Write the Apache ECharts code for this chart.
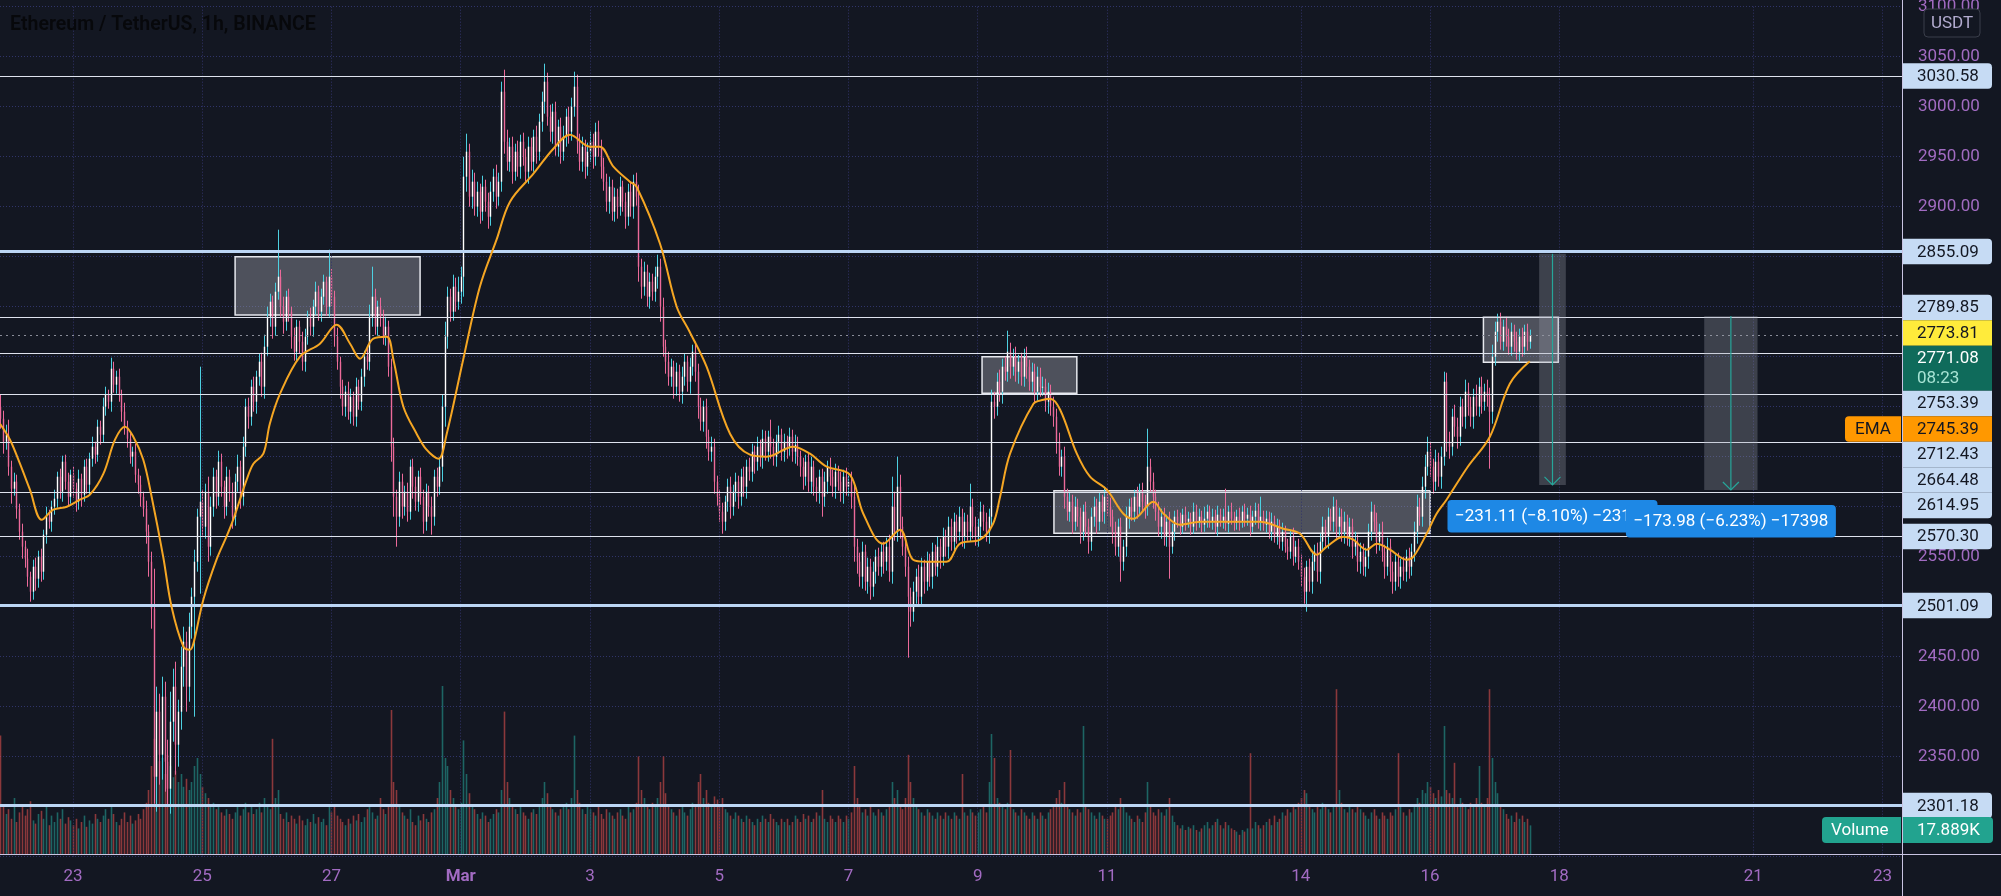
<!DOCTYPE html>
<html><head><meta charset="utf-8">
<script src="https://cdn.jsdelivr.net/npm/echarts@6/dist/echarts.min.js"></script>
<style>html,body{margin:0;padding:0;background:#131722;overflow:hidden}#c{width:2001px;height:896px}</style>
</head><body><div id="c"></div>
<script>
// ---------- DATA (hourly candles, hour 0 = 23 Feb 00:00) ----------
const startHour = -27;
const firstOpen = 2700;
const closes = [
2688,2665,2672,2640,2618,2625,2598,2575,2560,2548,2530,2515,2540,2528,2550,2535,2572,2590,2585,2600,2608,2630,2615,2645,2625,2610,2632,
2618,2605,2628,2612,2640,2622,2648,2660,2652,2680,2672,2700,2712,2705,2738,2722,2730,2712,2695,2680,2668,2650,2655,2632,
2622,2610,2598,2575,2545,2498,2330,2395,2352,2410,2345,2318,2385,2420,2362,2395,2440,2465,2420,2480,2510,2545,2590,2605,
2580,2615,2560,2600,2630,2610,2645,2620,2600,2630,2615,2590,2625,2640,2610,2660,2700,2690,2720,2705,2730,2745,2720,2760,
2790,2805,2780,2815,2830,2800,2785,2810,2795,2770,2755,2780,2765,2745,2770,2790,2780,2800,2815,2795,2810,2825,2800,2830,
2810,2770,2745,2720,2700,2715,2695,2710,2690,2720,2705,2730,2750,2745,2790,2810,2780,2800,2790,2770,2780,2740,2660,2610,
2590,2625,2600,2615,2595,2640,2620,2605,2630,2610,2585,2615,2600,2590,2630,2620,2640,2700,2770,2810,2795,2820,2805,2815,
2830,2930,2955,2910,2925,2900,2915,2895,2920,2905,2890,2915,2930,2910,2925,3015,2965,2945,2960,2935,2955,2940,2965,2950,
2935,2960,2945,2970,2955,2985,3005,3025,2990,2975,2995,2960,2980,2955,2970,2990,2975,3000,3020,2965,2945,2960,2940,2955,
2965,2950,2975,2960,2940,2925,2905,2920,2895,2910,2900,2920,2905,2890,2915,2900,2925,2910,2840,2820,2835,2810,2825,2815,
2830,2840,2800,2760,2745,2730,2740,2720,2735,2715,2730,2745,2725,2740,2755,2735,2700,2685,2700,2670,2655,2660,2625,2610,
2595,2585,2605,2620,2600,2615,2625,2610,2630,2620,2640,2635,2655,2645,2660,2650,2668,2655,2670,2660,2650,2665,2672,2655,
2665,2660,2670,2655,2662,2650,2640,2630,2645,2625,2640,2620,2615,2630,2610,2625,2640,2630,2620,2635,2625,2615,2630,2620,
2625,2610,2560,2545,2530,2555,2525,2540,2520,2535,2550,2540,2555,2545,2560,2535,2600,2575,2620,2580,2560,2540,2510,2495,
2515,2530,2510,2540,2525,2545,2530,2555,2540,2560,2550,2570,2560,2580,2565,2585,2575,2590,2570,2585,2575,2600,2580,2570,
2580,2595,2585,2575,2590,2705,2700,2725,2715,2740,2735,2755,2740,2750,2735,2745,2730,2750,2740,2725,2735,2715,2730,2720,
2720,2705,2715,2700,2690,2665,2640,2650,2610,2595,2605,2585,2600,2590,2575,2595,2580,2565,2590,2600,2585,2605,2595,2610,
2600,2590,2575,2560,2580,2545,2560,2590,2600,2595,2610,2600,2615,2605,2600,2640,2625,2610,2595,2580,2590,2570,2585,2560,
2575,2590,2585,2580,2592,2585,2588,2580,2595,2585,2590,2582,2588,2595,2585,2590,2580,2592,2586,2590,2583,2595,2588,2584,
2590,2585,2595,2588,2592,2580,2590,2596,2585,2590,2582,2588,2575,2585,2570,2580,2565,2575,2560,2555,2570,2550,2560,2545,
2530,2515,2540,2525,2545,2555,2535,2565,2580,2570,2590,2585,2600,2580,2590,2575,2585,2570,2580,2560,2565,2545,2555,2540,
2550,2575,2595,2585,2565,2575,2555,2540,2560,2535,2525,2545,2530,2540,2535,2550,2540,2555,2575,2600,2590,2620,2640,2655,
2640,2625,2645,2630,2650,2725,2665,2660,2690,2680,2670,2700,2690,2715,2700,2690,2710,2700,2720,2705,2715,2710,2695,2750,
2775,2785,2765,2780,2770,2760,2775,2765,2755,2770,2760,2775,2765,2771.08
];
const upWick = [
12,8,10,15,6,9,7,5,8,6,10,5,7,9,6,8,5,10,7,6,9,5,8,6,7,9,5,
8,6,9,5,7,8,6,10,5,7,6,9,8,5,11,7,6,8,5,9,6,7,5,8,
6,9,5,8,7,10,40,25,18,20,15,22,30,18,25,12,20,15,10,14,9,12,8,135,
12,8,15,10,9,7,11,8,6,10,7,9,8,12,6,10,8,9,7,10,6,8,9,12,
10,8,6,9,47,7,10,6,8,5,9,7,6,10,8,6,9,7,10,6,8,7,5,27,
8,6,9,5,7,6,10,8,5,9,7,8,6,10,12,30,8,6,9,7,10,6,8,9,
7,10,8,6,9,7,8,10,6,9,7,8,6,10,7,9,8,12,15,10,8,12,9,15,
10,20,18,8,12,9,10,8,11,7,9,10,8,12,9,10,22,12,9,10,8,11,7,9,
8,10,9,7,11,8,10,18,9,12,8,10,7,9,11,8,10,9,15,12,8,10,7,9,
10,8,9,11,7,9,8,10,7,9,8,10,6,9,8,10,7,9,12,8,10,7,9,8,
10,12,8,9,7,10,8,6,9,7,10,8,6,9,7,10,8,9,6,8,7,10,8,6,
7,9,6,8,10,7,9,6,8,10,7,9,8,6,10,7,9,8,6,17,8,7,9,6,
8,6,9,7,10,8,6,9,7,8,10,6,9,7,8,10,6,9,7,8,6,10,7,9,
8,10,12,8,9,10,7,9,8,10,7,9,8,10,9,12,30,15,30,12,10,8,10,9,
10,8,12,9,7,10,8,9,7,10,8,9,7,10,8,9,7,10,8,9,7,23,8,10,
8,10,7,9,8,12,10,9,12,8,10,21,9,8,10,7,9,8,10,7,9,8,10,9,
10,8,9,7,10,8,9,7,10,8,9,7,10,8,9,7,10,8,9,10,8,9,7,10,
8,9,7,10,8,9,7,10,8,9,7,10,8,9,7,38,8,9,7,10,8,9,7,10,
8,6,7,9,6,8,7,6,9,7,8,6,12,7,6,8,7,9,6,8,28,6,9,7,
7,9,6,8,7,9,6,8,7,20,6,8,7,9,6,8,7,9,6,8,7,9,6,8,
7,9,6,8,10,7,9,8,10,7,9,8,10,7,9,8,10,7,9,8,10,7,9,8,
9,8,10,7,9,8,10,7,9,8,10,7,9,8,10,7,9,8,10,12,9,10,12,15,
10,8,12,9,10,10,9,10,8,12,9,10,8,12,9,10,8,12,9,10,8,12,9,12,
10,8,9,7,10,8,9,7,10,8,9,7,8,6
];
const downWick = [
10,12,8,9,15,7,10,8,12,9,10,10,8,12,9,10,8,9,7,10,8,9,7,10,8,9,7,
9,10,8,12,7,9,10,8,9,7,10,8,9,7,10,8,9,7,10,8,9,7,10,8,
9,10,8,12,15,20,27,35,30,25,30,18,25,20,30,22,18,20,25,15,12,120,10,77,
10,12,15,9,10,12,9,10,12,9,10,12,9,10,12,9,10,12,9,10,12,9,10,12,
9,10,12,9,8,10,12,9,10,12,9,10,12,9,10,8,9,10,8,9,10,8,9,10,
9,10,8,12,9,10,8,12,9,10,8,9,10,8,9,10,8,9,10,8,9,10,15,20,
30,10,12,9,10,8,12,9,10,8,12,9,10,18,9,10,8,15,20,12,10,9,10,8,
12,20,15,10,12,9,10,12,9,10,12,9,10,12,9,10,12,9,10,12,9,10,12,9,
10,12,9,10,12,9,10,12,9,10,12,9,10,12,9,10,12,9,10,12,9,10,12,9,
10,12,9,10,12,9,10,12,9,10,12,9,10,12,9,10,12,9,15,12,9,10,12,9,
10,12,15,10,12,9,10,12,9,10,12,9,10,12,9,10,12,9,10,12,9,10,12,9,
10,12,9,10,12,9,10,12,9,10,12,9,10,12,9,10,12,9,10,12,9,10,12,9,
10,12,9,10,12,9,10,13,9,10,12,9,10,12,20,10,12,9,10,12,9,10,12,9,
10,12,15,12,10,12,9,12,13,10,12,9,10,12,9,10,12,9,10,12,9,10,61,15,
10,12,9,10,12,9,10,12,9,10,12,9,10,12,9,10,12,9,10,12,9,10,12,9,
10,12,9,10,12,10,12,9,10,12,9,10,12,9,10,12,9,10,12,9,10,12,9,10,
9,10,12,9,10,12,9,10,12,9,10,12,9,10,12,9,10,12,9,10,12,9,10,12,
9,10,12,9,10,20,9,10,12,9,10,12,9,10,12,9,10,12,9,10,12,9,10,32,
7,9,6,8,7,9,6,8,7,9,6,8,7,9,6,8,7,9,6,8,7,9,6,8,
7,9,6,8,7,9,6,8,7,9,6,8,7,9,6,8,7,9,6,8,7,9,6,8,
10,12,20,10,12,9,10,12,9,10,12,9,10,12,9,10,12,9,10,12,9,10,12,9,
10,12,9,10,12,9,10,12,9,10,12,9,10,12,9,10,12,9,10,12,9,10,12,9,
10,12,9,10,12,9,10,12,9,10,12,9,10,12,9,10,12,9,10,12,9,10,57,12,
9,10,8,9,10,8,9,10,8,9,10,8,9,7
];
const volumesK = [
74,30,25,28,22,35,20,26,30,24,28,33,21,19,25,27,22,30,18,24,20,26,22,28,19,23,21,
18,22,16,20,24,17,21,19,25,22,20,24,28,22,30,25,20,18,22,26,20,24,19,21,
25,22,28,32,40,55,72,65,58,60,50,62,55,48,52,45,50,42,47,40,45,55,60,50,
42,38,35,30,32,28,30,26,24,28,25,22,26,30,24,28,32,26,30,25,28,32,26,35,
30,28,72,35,40,25,22,26,20,24,22,19,24,21,18,22,20,25,19,23,20,22,18,30,
26,30,24,22,20,18,22,19,24,21,25,20,23,28,30,26,22,24,35,28,25,30,90,45,
40,30,26,24,22,28,20,18,24,21,25,22,20,26,28,35,45,105,60,55,40,35,30,28,
32,71,50,38,30,28,25,22,26,24,20,22,25,28,26,40,89,45,35,30,28,25,30,26,
24,22,26,28,25,30,35,45,38,30,28,26,24,28,30,32,28,35,74,40,32,28,25,30,
28,26,24,30,25,22,28,26,24,22,26,28,24,22,30,26,28,32,61,40,35,30,28,32,
30,35,45,61,38,30,28,26,24,28,30,26,24,28,32,30,45,50,35,40,32,30,36,34,
30,35,28,26,24,22,26,24,22,20,24,22,20,18,22,20,24,22,20,25,22,20,18,22,
20,22,18,20,24,22,20,25,22,24,20,22,26,24,40,22,20,24,22,20,24,22,20,24,
22,26,55,35,30,26,28,24,30,26,24,28,26,24,28,30,45,35,40,30,28,35,62,45,
35,30,28,26,24,28,26,24,22,26,24,22,26,24,22,26,24,22,50,26,24,28,26,24,
26,28,30,26,45,75,60,35,32,30,28,32,65,28,26,24,28,26,24,22,26,24,22,26,
24,22,26,28,30,35,40,32,45,30,28,26,24,28,26,80,30,28,26,24,22,26,24,22,
22,24,26,30,28,35,30,26,24,22,20,24,22,20,26,45,30,26,24,28,26,24,28,35,
24,20,18,16,18,15,17,16,18,15,14,16,18,20,16,18,20,22,18,16,20,18,16,15,
14,12,15,14,16,63,16,20,18,16,18,20,22,18,24,20,22,26,24,28,26,30,28,32,
35,40,38,30,28,26,30,28,32,30,28,26,30,103,40,32,28,26,30,28,26,30,28,26,
24,22,26,28,24,22,26,24,22,26,24,28,63,30,26,24,28,26,30,35,32,40,38,45,
42,38,35,40,36,80,40,38,35,57,30,35,32,30,28,32,30,35,55,32,30,35,103,60,
45,38,30,28,25,22,24,20,26,22,24,20,22,17.889
];
const emaHours = [-27.1,-23.4,-19.7,-16,-11.6,-7.3,-2.3,2.6,6.3,11.3,15.6,19.3,22.4,26.1,29.2,33.5,36.6,41,43.4,44.7,48.4,53.3,57,59.5,64.5,67,70.7,73.1,76.9,84.3,91.7,97.9,102.9,106.6,111.5,116.5,119,122.7,127.6,131.3,135.7,138.8,144.9,151.1,157.3,162.3,171,178.4,184.6,192,195.7,200.7,206.8,209.3,218,224.2,229,235.3,244,251.4,257.6,267.5,273.7,279.9,288.5,293.5,300.9,307.1,312,317,324.4,329.4,336.8,341.7,344.3,348,356.7,360.4,362.9,366.6,372.8,377.7,383.9,390.1,393.8,401.2,405,411.1,418.6,430.9,440.8,449.5,455.7,461.9,465.6,471.8,475.5,480.4,484.2,489.1,495.3,497.8,502.7,506.4,510.1,518,526.2,533.6,541];
const emaValues = [2683,2667,2643,2617,2587,2597,2600,2607,2612,2633,2667,2680,2670,2647,2610,2550,2500,2460,2457,2463,2507,2547,2570,2587,2627,2643,2653,2683,2713,2750,2763,2782,2763,2748,2768,2770,2747,2700,2673,2657,2648,2673,2747,2820,2867,2905,2933,2958,2972,2960,2960,2940,2925,2920,2863,2800,2775,2740,2673,2652,2650,2660,2653,2640,2632,2593,2563,2577,2547,2545,2545,2563,2567,2583,2610,2653,2703,2707,2708,2697,2653,2630,2617,2593,2588,2605,2593,2582,2585,2585,2585,2578,2573,2552,2560,2570,2567,2557,2563,2557,2547,2550,2573,2593,2607,2640,2670,2723,2745.39];

const tickHours = [0,48,96,144,192,240,288,336,384,456,504,552,624,672];
const tickLabels = ['23','25','27','Mar','3','5','7','9','11','14','16','18','21','23'];

const levelPrices = [3030.58,2855.09,2789.85,2753.39,2712.43,2664.48,2614.95,2570.30,2501.09,2301.18];
const thickLevels = [2855.09,2501.09,2301.18];
const lastPrice = 2771.08, lastCountdown = '08:23';
const markPrice = 2773.81;
const emaLast = 2745.39;
const lastVolumeText = '17.889K';

const zoneStartH = [60.2,337.6,364.3,523.8];
const zoneEndH   = [128.9,372.8,504,551.6];
const zoneLow    = [2791.7,2713.4,2573.4,2744.4];
const zoneHigh   = [2850,2750,2616,2789.4];

const measureStartH = [544.5,605.8];
const measureEndH   = [554.4,625.6];
const measureFrom   = [2852.9,2790.7];
const measureTo     = [2621.79,2616.72];
const measureText   = ['\u2212231.11 (\u22128.10%) \u221223111','\u2212173.98 (\u22126.23%) \u221217398'];

// ---------- BUILD ----------
const candles = [], vols = [];
let prev = firstOpen;
for (let i = 0; i < closes.length; i++) {
  const h = startHour + i, o = prev, c = closes[i];
  candles.push([h, o, c, Math.min(o, c) - downWick[i], Math.max(o, c) + upWick[i]]);
  vols.push([h, volumesK[i], c >= o ? 1 : 0]);
  prev = c;
}
const emaData = emaHours.map((h, i) => [h, emaValues[i]]);

const X_MIN = -27.11, X_MAX = 679.25;
const PURPLE = '#a26bc2', GRIDC = '#30346a';
const UP_WICK = '#4dd0e1', UP_BODY = '#ffffff', DOWN = '#ec6a9a';
const FONT = 'Roboto, "Noto Sans", sans-serif';

const chart = echarts.init(document.getElementById('c'), null, {renderer: 'canvas', width: 2001, height: 896});

const levelLines = levelPrices.map(p => ({
  yAxis: p,
  lineStyle: thickLevels.includes(p)
    ? {color: '#bcd6f5', width: 3, type: 'solid'}
    : {color: '#dfe3ee', width: 1.2, type: 'solid'}
}));
levelLines.push({yAxis: lastPrice, lineStyle: {color: '#8a8d99', width: 1, type: [2, 4]}});

chart.setOption({
  animation: false,
  backgroundColor: '#131722',
  grid: [
    {left: 0, right: 99, top: 6.7, bottom: 39.3, outerBoundsMode: 'none', containLabel: false},
    {left: 0, right: 99, top: 554, bottom: 42, outerBoundsMode: 'none', containLabel: false}
  ],
  xAxis: [
    {type: 'value', gridIndex: 0, min: X_MIN, max: X_MAX, show: false},
    {type: 'value', gridIndex: 1, min: X_MIN, max: X_MAX,
      axisLine: {show: false}, axisTick: {show: false}, splitLine: {show: false},
      axisLabel: {
        customValues: tickHours, color: PURPLE, fontSize: 17, fontFamily: FONT, margin: 14,
        formatter: v => { const i = tickHours.indexOf(v); const t = i >= 0 ? tickLabels[i] : ''; return t === 'Mar' ? '{b|Mar}' : t; },
        rich: {b: {fontWeight: 'bold', color: PURPLE, fontSize: 17, fontFamily: FONT}}
      }}
  ],
  yAxis: [
    {type: 'value', gridIndex: 0, position: 'right', min: 2250, max: 3100, interval: 50,
      axisLine: {show: false}, axisTick: {show: false},
      axisLabel: {color: PURPLE, fontSize: 17, fontFamily: FONT, margin: 16, formatter: v => v.toFixed(2), showMinLabel: false},
      splitLine: {show: true, lineStyle: {color: GRIDC, type: [1, 2], width: 1}}},
    {type: 'value', gridIndex: 1, min: 0, max: 187.5, show: false}
  ],
  series: [
    {type: 'line', xAxisIndex: 0, yAxisIndex: 0, data: [[0, 2700]], showSymbol: false, symbol: 'none',
      lineStyle: {opacity: 0}, z: 0, silent: true,
      markLine: {silent: true, symbol: 'none', label: {show: false}, animation: false,
        lineStyle: {color: GRIDC, type: [1, 2], width: 1},
        data: tickHours.map(h => ({xAxis: h}))}},
    {type: 'custom', xAxisIndex: 1, yAxisIndex: 1, data: vols, z: 2, silent: true,
      renderItem: (params, api) => {
        const h = api.value(0), v = api.value(1), up = api.value(2);
        const b = api.coord([h, 0]), t = api.coord([h, v]);
        const x = Math.round(b[0]);
        return {type: 'rect', shape: {x: x - 0.3, y: t[1], width: 1.6, height: b[1] - t[1]},
          style: {fill: up ? 'rgba(38,166,154,0.55)' : 'rgba(239,83,80,0.55)'}};
      }},
    {type: 'custom', xAxisIndex: 0, yAxisIndex: 0, data: candles, z: 3, silent: true,
      renderItem: (params, api) => {
        const h = api.value(0), o = api.value(1), c = api.value(2), lo = api.value(3), hi = api.value(4);
        const pO = api.coord([h, o]), pC = api.coord([h, c]), pL = api.coord([h, lo]), pH = api.coord([h, hi]);
        const x = Math.round(pO[0]) + 0.5;
        const up = c >= o;
        const top = Math.min(pO[1], pC[1]), bot = Math.max(pO[1], pC[1]);
        return {type: 'group', children: [
          {type: 'line', shape: {x1: x, y1: pH[1], x2: x, y2: pL[1]}, style: {stroke: up ? UP_WICK : DOWN, lineWidth: 1}},
          {type: 'rect', shape: {x: x - 0.7, y: top, width: 1.4, height: Math.max(1, bot - top)}, style: {fill: up ? UP_BODY : DOWN}}
        ]};
      }},
    {type: 'line', xAxisIndex: 0, yAxisIndex: 0, data: emaData, smooth: 0.35, showSymbol: false, symbol: 'none',
      lineStyle: {color: '#f5a623', width: 2}, z: 5, silent: true},
    {type: 'line', xAxisIndex: 0, yAxisIndex: 0, data: [[0, 2700]], showSymbol: false, symbol: 'none',
      lineStyle: {opacity: 0}, z: 4, silent: true,
      markLine: {silent: true, symbol: 'none', label: {show: false}, animation: false, data: levelLines}}
  ]
});

// ---------- OVERLAYS (drawings & price labels, positioned through the axes) ----------
const gp = (h, p) => chart.convertToPixel({gridIndex: 0}, [h, p]);
const py = p => chart.convertToPixel({yAxisIndex: 0}, p);
const els = [];

els.push({type: 'line', shape: {x1: 1902.5, y1: 0, x2: 1902.5, y2: 896}, style: {stroke: '#c9c4e2', lineWidth: 1}, z: 50});
els.push({type: 'line', shape: {x1: 0, y1: 854.5, x2: 2001, y2: 854.5}, style: {stroke: '#c9c4e2', lineWidth: 1}, z: 50});

for (let i = 0; i < zoneStartH.length; i++) {
  const a = gp(zoneStartH[i], zoneHigh[i]), b = gp(zoneEndH[i], zoneLow[i]);
  els.push({type: 'rect', shape: {x: a[0], y: a[1], width: b[0] - a[0], height: b[1] - a[1]},
    style: {fill: 'rgba(160,163,175,0.42)', stroke: '#e6e8ee', lineWidth: 1.5}, z: 1});
}
for (let i = 0; i < measureStartH.length; i++) {
  const a = gp(measureStartH[i], measureFrom[i]), b = gp(measureEndH[i], measureTo[i]);
  const xm = (a[0] + b[0]) / 2;
  els.push({type: 'rect', shape: {x: a[0], y: a[1], width: b[0] - a[0], height: b[1] - a[1]},
    style: {fill: 'rgba(160,163,175,0.3)'}, z: 6});
  els.push({type: 'line', shape: {x1: xm, y1: a[1], x2: xm, y2: b[1]}, style: {stroke: '#26a69a', lineWidth: 1.2}, z: 7});
  els.push({type: 'polyline', shape: {points: [[xm - 8, b[1] - 8], [xm, b[1]], [xm + 8, b[1] - 8]]}, style: {stroke: '#26a69a', lineWidth: 1.2, fill: null}, z: 7});
  const w = 210, top = b[1] + 15;
  els.push({type: 'rect', shape: {x: xm - w / 2, y: top, width: w, height: 32.5, r: 4}, style: {fill: '#1e88e5'}, z: 20 + i * 2});
  els.push({type: 'text', x: xm, y: top + 16.5, style: {text: measureText[i], fill: '#ffffff', font: '17px ' + FONT, align: 'center', verticalAlign: 'middle'}, z: 21 + i * 2});
}

const LB = '#c6dbf4';
const labels = [];
levelPrices.forEach(p => labels.push({p, text: p.toFixed(2), bg: LB, fg: '#131722', h: 25.5}));
labels.push({p: markPrice, text: markPrice.toFixed(2), bg: '#ffeb3b', fg: '#131722', h: 25.5, anchor: true});
labels.push({p: lastPrice, text: lastPrice.toFixed(2), sub: lastCountdown, bg: '#0f6b5b', fg: '#ffffff', h: 45});
labels.push({p: emaLast, text: emaLast.toFixed(2), bg: '#ff9800', fg: '#131722', h: 25.5, tag: 'EMA'});
labels.sort((a, b) => b.p - a.p);
labels.forEach(l => { l.y = py(l.p); });
const ai = labels.findIndex(l => l.anchor);
labels[ai].top = labels[ai].y - 12.75;
for (let i = ai + 1; i < labels.length; i++) {
  labels[i].top = Math.max(labels[i].y - 12.75, labels[i - 1].top + labels[i - 1].h);
}
for (let i = ai - 1; i >= 0; i--) {
  labels[i].top = Math.min(labels[i].y - 12.75 + labels[i].h, labels[i + 1].top) - labels[i].h;
}
labels.forEach((l, i) => {
  const touchPrev = i > 0 && Math.abs(labels[i - 1].top + labels[i - 1].h - l.top) < 0.6;
  const touchNext = i < labels.length - 1 && Math.abs(l.top + l.h - labels[i + 1].top) < 0.6;
  els.push({type: 'rect', shape: {x: 1903, y: l.top, width: 89, height: l.h, r: [0, touchPrev ? 0 : 4, touchNext ? 0 : 4, 0]}, style: {fill: l.bg}, z: 30});
  els.push({type: 'text', x: 1917, y: l.top + 13.5, style: {text: l.text, fill: l.fg, font: '17px ' + FONT, verticalAlign: 'middle'}, z: 31});
  if (l.sub) els.push({type: 'text', x: 1917, y: l.top + 33.5, style: {text: l.sub, fill: '#a7e3d4', font: '17px ' + FONT, verticalAlign: 'middle'}, z: 31});
  if (l.tag) {
    els.push({type: 'rect', shape: {x: 1845, y: l.top, width: 56, height: l.h, r: [4, 0, 0, 4]}, style: {fill: l.bg}, z: 30});
    els.push({type: 'text', x: 1855, y: l.top + 13.5, style: {text: l.tag, fill: '#131722', font: '17px ' + FONT, verticalAlign: 'middle'}, z: 31});
  }
});

els.push({type: 'rect', shape: {x: 1822, y: 817, width: 79, height: 26, r: [4, 0, 0, 4]}, style: {fill: '#22a38f'}, z: 30});
els.push({type: 'text', x: 1831, y: 830.5, style: {text: 'Volume', fill: '#ffffff', font: '17px ' + FONT, verticalAlign: 'middle'}, z: 31});
els.push({type: 'rect', shape: {x: 1903, y: 817, width: 90, height: 26, r: [0, 4, 4, 0]}, style: {fill: '#22a38f'}, z: 30});
els.push({type: 'text', x: 1917, y: 830.5, style: {text: lastVolumeText, fill: '#ffffff', font: '17px ' + FONT, verticalAlign: 'middle'}, z: 31});

els.push({type: 'rect', shape: {x: 1924, y: 9, width: 56, height: 28, r: 4}, style: {fill: '#131722', stroke: '#3a3e4a', lineWidth: 1}, z: 30});
els.push({type: 'text', x: 1952, y: 23.5, style: {text: 'USDT', fill: '#b2abcf', font: '17px ' + FONT, align: 'center', verticalAlign: 'middle'}, z: 31});

els.push({type: 'text', x: 10, y: 25, style: {text: 'Ethereum / TetherUS, 1h, BINANCE', fill: '#07080b', font: '600 19.5px ' + FONT, verticalAlign: 'middle'}, z: 40});

chart.setOption({graphic: {elements: els}});
</script>
</body></html>
